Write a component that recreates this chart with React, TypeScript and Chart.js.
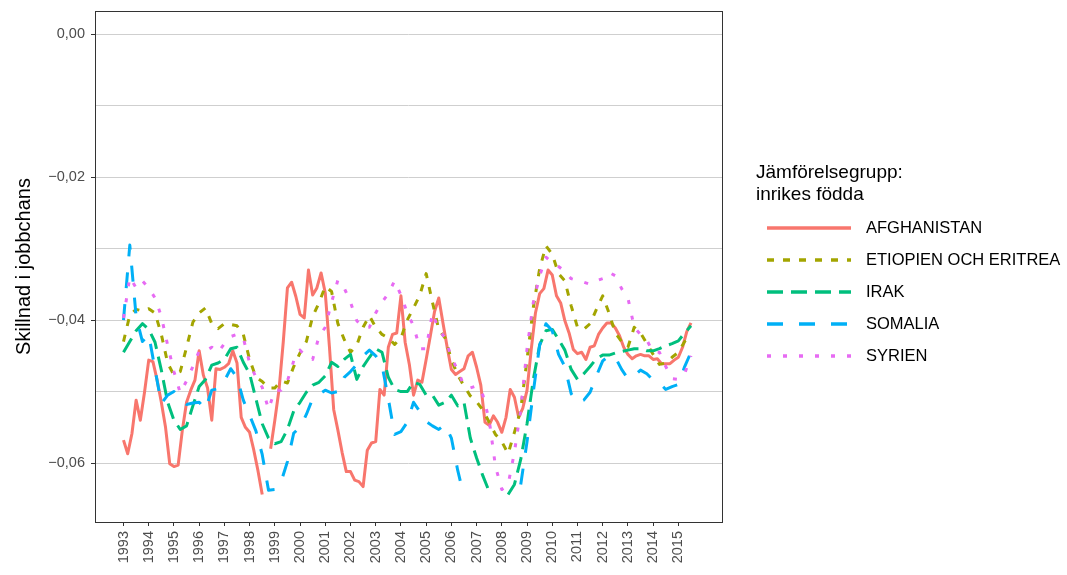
import React, { useEffect, useRef } from "react";
import { Chart, registerables } from "chart.js";

Chart.register(...registerables);

const FONT = "'Liberation Sans', Arimo, Arial, sans-serif";

// Time axis: observations start in 1993. Afghanistan is read at a two-month step, the others quarterly.
const startYear = 1993;
const afghanistanPerYear = 6;
const othersPerYear = 4;
const yearTicks = [1993, 1994, 1995, 1996, 1997, 1998, 1999, 2000, 2001, 2002, 2003, 2004, 2005, 2006, 2007, 2008, 2009, 2010, 2011, 2012, 2013, 2014, 2015];
const yTickValues = [-0.06, -0.05, -0.04, -0.03, -0.02, -0.01, 0];
const yLimitLow = -0.065;

const seriesNames = ["AFGHANISTAN", "ETIOPIEN OCH ERITREA", "IRAK", "SOMALIA", "SYRIEN"];
const seriesColors = ["#F8766D", "#A3A500", "#00BF7D", "#00B0F6", "#E76BF3"];
const seriesDashes = [[], [7, 9], [16, 8], [16, 16], [4, 12]];

const afghanistan = [
  -0.0568, -0.0587, -0.0559, -0.0512, -0.054, -0.0501,
  -0.0456, -0.0458, -0.0484, -0.0515, -0.055, -0.0601,
  -0.0605, -0.0603, -0.0554, -0.0515, -0.0498, -0.0484,
  -0.0443, -0.0477, -0.0495, -0.054, -0.0468, -0.0469,
  -0.0466, -0.0461, -0.0443, -0.046, -0.0536, -0.055,
  -0.0557, -0.0582, -0.0611, -0.0644, -0.066, -0.058,
  -0.054, -0.0497, -0.0431, -0.0355, -0.0347, -0.0367,
  -0.0392, -0.0397, -0.033, -0.0365, -0.0355, -0.0334,
  -0.0362, -0.0438, -0.0525, -0.0554, -0.0585, -0.0612,
  -0.0612, -0.0624, -0.0626, -0.0633, -0.0582, -0.0572,
  -0.057, -0.0497, -0.0505, -0.0438, -0.042, -0.0418,
  -0.0366, -0.0431, -0.0462, -0.0505, -0.0484, -0.0487,
  -0.0455, -0.0422, -0.0388, -0.0369, -0.0404, -0.0438,
  -0.0469, -0.0476, -0.0472, -0.0468, -0.045, -0.0445,
  -0.0466, -0.0491, -0.0543, -0.0547, -0.0534, -0.0543,
  -0.0557, -0.0536, -0.0497, -0.0508, -0.0536, -0.0523,
  -0.0498, -0.0441, -0.039, -0.0363, -0.0356, -0.033,
  -0.0337, -0.0366, -0.0376, -0.0401, -0.0418, -0.0441,
  -0.0447, -0.0445, -0.0455, -0.0438, -0.0436, -0.042,
  -0.0411, -0.0404, -0.0404, -0.0411, -0.0422, -0.0438,
  -0.0448, -0.0454, -0.045, -0.0448, -0.045, -0.045,
  -0.0455, -0.0454, -0.0461, -0.0461, -0.0461, -0.0456,
  -0.0452, -0.0438, -0.0416, -0.0404,
];

const etiopienEritrea = [
  -0.043, -0.0393, -0.0385, -0.0387,
  -0.0384, -0.039, -0.042, -0.046,
  -0.0477, -0.0472, -0.0438, -0.0403,
  -0.039, -0.0383, -0.0405, -0.0412,
  -0.0405, -0.0406, -0.0408, -0.042,
  -0.0455, -0.048, -0.0486, -0.0495,
  -0.0495, -0.0485, -0.0488, -0.0465,
  -0.0446, -0.043, -0.0395, -0.0376,
  -0.0353, -0.036, -0.0405, -0.0427,
  -0.0445, -0.0435, -0.041, -0.0394,
  -0.041, -0.042, -0.0425, -0.0434,
  -0.0425, -0.04, -0.0383, -0.0365,
  -0.0335, -0.0375, -0.0413, -0.0425,
  -0.0455, -0.0477, -0.0492, -0.0506,
  -0.0514, -0.0526, -0.0543, -0.056,
  -0.057, -0.0587, -0.0557, -0.0525,
  -0.0455, -0.0382, -0.0328, -0.0296,
  -0.0308, -0.0335, -0.0345, -0.038,
  -0.041, -0.0413, -0.0405, -0.0385,
  -0.0366, -0.039, -0.0418, -0.043,
  -0.0438, -0.041, -0.0418, -0.0433,
  -0.0448, -0.0462, -0.046, -0.0452,
  -0.0445, -0.043, -0.044,
];

const irak = [
  -0.0445, -0.043, -0.0415, -0.0405,
  -0.0413, -0.0431, -0.047, -0.0515,
  -0.054, -0.0553, -0.0548, -0.052,
  -0.0493, -0.0483, -0.0463, -0.046,
  -0.0455, -0.044, -0.0438, -0.0459,
  -0.0475, -0.051, -0.0545, -0.0565,
  -0.0573, -0.057, -0.0553, -0.0527,
  -0.0515, -0.0501, -0.0491, -0.0487,
  -0.0478, -0.0459, -0.0465, -0.0455,
  -0.0448, -0.0483, -0.0465, -0.0452,
  -0.044, -0.0445, -0.048, -0.0497,
  -0.05, -0.05, -0.0487, -0.049,
  -0.0505, -0.0505, -0.0519, -0.0515,
  -0.0505, -0.052, -0.0515, -0.0565,
  -0.0593, -0.0618, -0.064, -0.066,
  -0.0655, -0.0644, -0.063, -0.0595,
  -0.0545, -0.0483, -0.0435, -0.0415,
  -0.0413, -0.0427, -0.0442, -0.0469,
  -0.0483, -0.0475, -0.0465, -0.0454,
  -0.0449, -0.0449, -0.0446, -0.0444,
  -0.0442, -0.044, -0.044, -0.0443,
  -0.0443, -0.044, -0.0436, -0.0433,
  -0.0429, -0.0418, -0.0408,
];

const somalia = [
  -0.04, -0.0295, -0.0395, -0.043,
  -0.042, -0.0469, -0.0517, -0.0505,
  -0.05, -0.051, -0.0518, -0.0516,
  -0.0515, -0.0525, -0.0498, -0.0496,
  -0.0485, -0.0468, -0.048, -0.0512,
  -0.0533, -0.0555, -0.0588, -0.0638,
  -0.0637, -0.0626, -0.0598, -0.0558,
  -0.055, -0.0532, -0.051, -0.0504,
  -0.0498, -0.0502, -0.05, -0.048,
  -0.0472, -0.0462, -0.045, -0.0442,
  -0.045, -0.0463, -0.051, -0.056,
  -0.0556, -0.0543, -0.0515, -0.0528,
  -0.0542, -0.0548, -0.0553, -0.0546,
  -0.0565, -0.061, -0.0647, -0.067,
  -0.068, -0.068, -0.068, -0.068,
  -0.068, -0.068, -0.067, -0.063,
  -0.057, -0.05, -0.0435, -0.0405,
  -0.0415, -0.0448, -0.0465, -0.0503,
  -0.0516, -0.0512, -0.0501, -0.0478,
  -0.0457, -0.045, -0.0452, -0.0469,
  -0.0482, -0.0478, -0.047, -0.0475,
  -0.0484, -0.0488, -0.0497, -0.0493,
  -0.049, -0.0465, -0.0445,
];

const syrien = [
  -0.0397, -0.034, -0.0355, -0.0345,
  -0.0355, -0.0369, -0.0395, -0.0435,
  -0.0472, -0.0502, -0.0485, -0.0465,
  -0.0443, -0.0443, -0.0438, -0.0445,
  -0.0433, -0.0423, -0.042, -0.0425,
  -0.046, -0.048, -0.0494, -0.0525,
  -0.0498, -0.0498, -0.0485, -0.0457,
  -0.0442, -0.0452, -0.0455, -0.0423,
  -0.041, -0.0375, -0.0344, -0.0355,
  -0.0375, -0.0401, -0.041, -0.041,
  -0.039, -0.0375, -0.0363, -0.0345,
  -0.0365, -0.039, -0.0408, -0.044,
  -0.044, -0.039, -0.0413, -0.0425,
  -0.0452, -0.047, -0.0492, -0.0495,
  -0.0492, -0.0505, -0.054, -0.0605,
  -0.0637, -0.063, -0.0585, -0.0525,
  -0.044, -0.0375, -0.0338, -0.0312,
  -0.032, -0.0325, -0.0332, -0.0342,
  -0.0345, -0.0347, -0.035, -0.0345,
  -0.0342, -0.0333, -0.0338, -0.0356,
  -0.0369, -0.041, -0.042, -0.0428,
  -0.0445, -0.0445, -0.0465, -0.0482,
  -0.0483, -0.0475, -0.045,
];

const seriesValues = [afghanistan, etiopienEritrea, irak, somalia, syrien];
const seriesPerYear = [afghanistanPerYear, othersPerYear, othersPerYear, othersPerYear, othersPerYear];

const legendTitle = ["Jämförelsegrupp:", "inrikes födda"];
const yAxisTitle = "Skillnad i jobbchans";

function formatY(v: number): string {
  const s = Math.abs(v).toFixed(2).replace(".", ",");
  return v < -1e-9 ? "\u2212" + s : s;
}

function isMajorY(v: number): boolean {
  return Math.round(v * 100) % 2 === 0;
}

const panelAndLegendPlugin = {
  id: "panelAndLegend",
  afterDatasetsDraw(chart: any) {
    const { ctx, chartArea } = chart;
    ctx.save();
    ctx.strokeStyle = "#333333";
    ctx.lineWidth = 1;
    ctx.strokeRect(chartArea.left + 0.5, chartArea.top + 0.5, chartArea.right - chartArea.left, chartArea.bottom - chartArea.top);
    ctx.restore();
  },
  afterDraw(chart: any) {
    const { ctx, chartArea } = chart;
    const x0 = chartArea.right + 34;
    ctx.save();
    ctx.fillStyle = "#000000";
    ctx.textBaseline = "middle";
    ctx.textAlign = "left";
    ctx.font = `19px ${FONT}`;
    ctx.fillText(legendTitle[0], x0, chartArea.top + 162);
    ctx.fillText(legendTitle[1], x0, chartArea.top + 184);
    ctx.font = `16.5px ${FONT}`;
    seriesNames.forEach((name, i) => {
      const y = chartArea.top + 217 + i * 32;
      ctx.save();
      ctx.strokeStyle = seriesColors[i];
      ctx.lineWidth = 3.5;
      ctx.lineCap = "butt";
      ctx.setLineDash(seriesDashes[i]);
      ctx.beginPath();
      ctx.moveTo(x0 + 11, y);
      ctx.lineTo(x0 + 95, y);
      ctx.stroke();
      ctx.restore();
      ctx.fillStyle = "#000000";
      ctx.fillText(name, x0 + 110, y);
    });
    ctx.restore();
  },
};

export default function App() {
  const canvasRef = useRef<HTMLCanvasElement | null>(null);

  useEffect(() => {
    if (!canvasRef.current) return;
    const datasets = seriesNames.map((name, i) => ({
      label: name,
      data: seriesValues[i].map((v, k) => ({
        x: startYear + k / seriesPerYear[i],
        y: v === null || v < yLimitLow ? null : v,
      })),
      borderColor: seriesColors[i],
      backgroundColor: seriesColors[i],
      borderDash: seriesDashes[i],
      borderWidth: 3,
      borderCapStyle: "butt",
      borderJoinStyle: "round",
      pointRadius: 0,
      tension: 0,
      spanGaps: false,
      fill: false,
      order: seriesNames.length - i,
    }));

    const chart = new Chart(canvasRef.current, {
      type: "line",
      data: { datasets } as any,
      plugins: [panelAndLegendPlugin],
      options: {
        responsive: false,
        animation: false,
        devicePixelRatio: 1,
        parsing: false as any,
        normalized: true,
        layout: { padding: { top: 11, right: 345, left: 0, bottom: 0 } },
        plugins: {
          legend: { display: false },
          tooltip: { enabled: false },
        },
        scales: {
          x: {
            type: "linear",
            min: 1991.87,
            max: 2016.73,
            afterBuildTicks: (scale: any) => {
              scale.ticks = yearTicks.map((v) => ({ value: v }));
            },
            afterFit: (scale: any) => {
              scale.height = 53;
              scale.paddingLeft = 0;
              scale.paddingRight = 0;
            },
            ticks: {
              autoSkip: false,
              minRotation: 90,
              maxRotation: 90,
              padding: 5,
              color: "#4d4d4d",
              font: { family: FONT, size: 14.5 },
              callback: (v: any) => String(v),
            },
            grid: {
              display: true,
              drawOnChartArea: false,
              drawTicks: true,
              tickLength: 4,
              tickColor: "#333333",
              tickWidth: 1,
            },
            border: { display: false },
          },
          y: {
            type: "linear",
            min: -0.06825,
            max: 0.00325,
            afterBuildTicks: (scale: any) => {
              scale.ticks = yTickValues.map((v) => ({ value: v }));
            },
            afterFit: (scale: any) => {
              scale.width = 95;
              scale.paddingTop = 0;
              scale.paddingBottom = 0;
            },
            ticks: {
              padding: 6,
              color: "#4d4d4d",
              font: { family: FONT, size: 14.5 },
              callback: (v: any) => (isMajorY(Number(v)) ? formatY(Number(v)) : ""),
            },
            grid: {
              color: "#cfcfcf",
              lineWidth: 1,
              drawTicks: true,
              tickLength: 4,
              tickWidth: 1,
              tickColor: (ctx: any) => (ctx.tick && isMajorY(ctx.tick.value) ? "#333333" : "rgba(0,0,0,0)"),
            },
            border: { display: false },
            title: {
              display: true,
              text: yAxisTitle,
              color: "#000000",
              font: { family: FONT, size: 20 },
              padding: { top: 12, bottom: 0 },
            },
          },
        },
      } as any,
    });
    return () => chart.destroy();
  }, []);

  return (
    <div style={{ position: "fixed", left: 0, top: 0, width: 1067, height: 575, background: "#ffffff" }}>
      <canvas ref={canvasRef} width={1067} height={575} style={{ display: "block", width: 1067, height: 575 }} />
    </div>
  );
}
